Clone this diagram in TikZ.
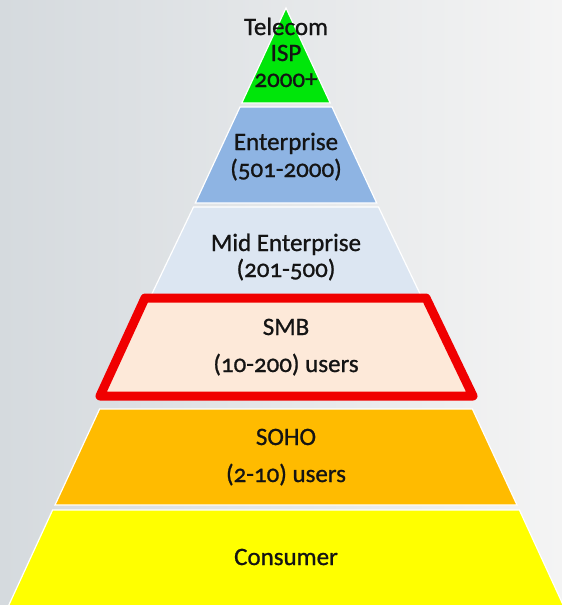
\documentclass[tikz,border=0pt]{standalone}
\usepackage{fontspec}
\setmainfont{Carlito}[Numbers=OldStyle]
\newfontfamily\lblfont{Carlito}[Numbers=OldStyle,FakeBold=0.9]
\begin{document}
\begin{tikzpicture}[x=1pt,y=-1pt,
  layer/.style={draw=white,line width=1.2pt},
  lbl/.style={anchor=base,inner sep=0pt,text=black!92,font=\lblfont\fontsize{25}{28}\selectfont}]
\definecolor{bgL}{RGB}{213,218,222}
\definecolor{bgR}{RGB}{244,244,244}
\definecolor{cGreen}{RGB}{0,230,10}
\definecolor{cBlue}{RGB}{142,180,227}
\definecolor{cMid}{RGB}{220,230,242}
\definecolor{cSMB}{RGB}{253,233,217}
\definecolor{cRed}{RGB}{240,0,0}
\definecolor{cSOHO}{RGB}{255,187,0}
\definecolor{cCons}{RGB}{255,255,0}
\useasboundingbox (0,0) rectangle (562,605);
\shade[left color=bgL,right color=bgR] (0,0) rectangle (562,605);
% layers
\fill[cGreen,layer] (286,8) -- (330.2,103) -- (241.8,103) -- cycle;
\fill[cBlue,layer] (240,107) -- (332,107) -- (376.7,203) -- (195.3,203) -- cycle;
\fill[cMid,layer] (193.5,207) -- (378.5,207) -- (423,300) -- (149,300) -- cycle;
\filldraw[fill=cSMB,draw=cRed,line width=9pt,line join=round] (145,298) -- (426,298) -- (473,396) -- (100,396) -- cycle;
\fill[cSOHO,layer] (99.6,409) -- (472.4,409) -- (517,505) -- (55,505) -- cycle;
\fill[cCons,layer] (52.6,510) -- (519.4,510) -- (563.6,606) -- (8.4,606) -- cycle;
% labels
\node[lbl] (t1) at (286,35) {Telecom};
\node[lbl] (t2) at (286,61) {ISP};
\node[lbl] (t3) at (286,87) {2000+};
\node[lbl] (e1) at (286,150) {Enterprise};
\node[lbl] (e2) at (286,177) {(501-2000)};
\node[lbl] (m1) at (286,251) {Mid Enterprise};
\node[lbl] (m2) at (286,277) {(201-500)};
\node[lbl] (s1) at (286,335) {SMB};
\node[lbl] (s2) at (286,372) {(10-200) users};
\node[lbl] (h1) at (286,445) {SOHO};
\node[lbl] (h2) at (286,482) {(2-10) users};
\node[lbl] (c1) at (286,565) {Consumer};
\end{tikzpicture}
\end{document}
